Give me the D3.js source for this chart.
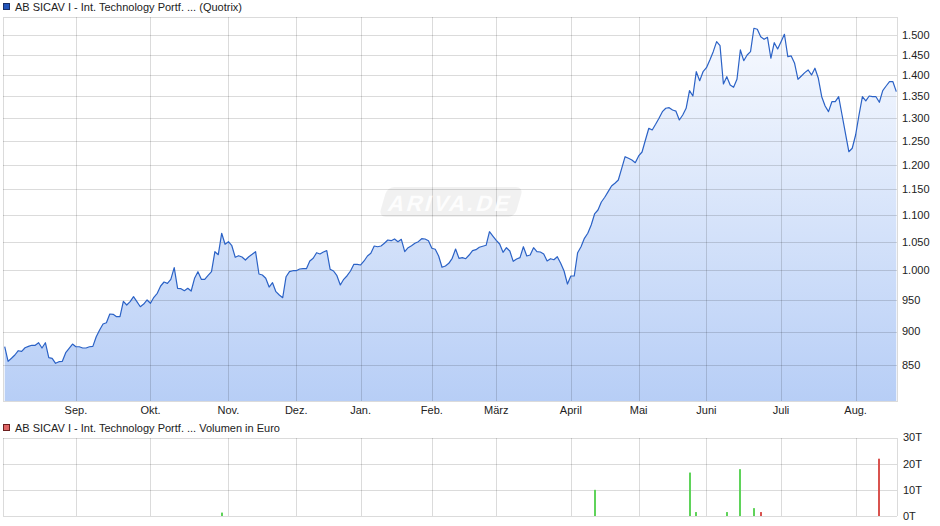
<!DOCTYPE html>
<html><head><meta charset="utf-8">
<script src="https://cdn.jsdelivr.net/npm/d3@7"></script>
<style>
body{margin:0;background:#fff;}
svg{display:block;font-family:"Liberation Sans",Arial,sans-serif;}
</style>
</head><body>
<svg id="c" width="940" height="526"></svg>
<script>
// ---------- data ----------
const priceTitle = "AB SICAV I - Int. Technology Portf. ... (Quotrix)";
const volumeTitle = "AB SICAV I - Int. Technology Portf. ... Volumen in Euro";

// daily closing prices (one per trading day)
const prices = [
876.8,855.0,859.5,864.4,870.8,869.9,875.3,877.4,879.0,879.0,
882.9,874.9,882.9,860.4,859.5,852.1,854.5,855.0,867.8,874.4,
880.9,876.8,876.8,874.9,874.9,876.8,877.4,892.1,902.5,911.8,
913.9,927.7,927.2,923.4,923.4,948.2,942.2,947.6,955.8,947.6,
939.4,943.8,950.4,945.0,954.8,961.4,973.6,980.3,978.1,984.9,
1004.8,969.7,969.1,965.7,969.7,965.2,986.6,997.9,984.9,984.9,
991.7,997.9,1032.9,1027.6,1066.2,1046.2,1050.9,1043.6,1023.0,1025.8,
1023.5,1018.2,1024.0,1028.3,1032.9,993.9,992.2,986.6,971.9,979.1,
964.1,958.6,954.1,989.3,997.9,999.6,999.6,1002.5,1003.1,1003.1,
1016.5,1021.2,1031.1,1028.8,1032.4,1034.7,1002.0,999.1,991.0,975.3,
984.9,991.0,999.1,1010.7,1010.7,1009.5,1016.5,1025.3,1030.0,1043.1,
1041.8,1043.1,1048.0,1053.9,1052.7,1055.8,1050.9,1055.2,1032.9,1040.0,
1043.6,1048.0,1050.9,1056.3,1055.8,1052.7,1039.0,1037.2,1025.3,1005.5,
1007.7,1012.4,1021.2,1037.7,1021.2,1022.3,1020.5,1027.0,1034.7,1036.5,
1040.8,1042.6,1044.4,1069.1,1061.2,1053.4,1046.7,1031.8,1040.0,1034.1,
1015.9,1020.0,1022.3,1041.8,1025.3,1027.0,1040.0,1032.9,1032.4,1028.8,
1016.5,1020.5,1018.7,1024.0,1012.4,999.1,976.9,990.5,990.5,1031.1,
1041.8,1057.0,1066.2,1081.6,1102.3,1109.9,1125.3,1134.5,1145.5,1156.8,
1162.2,1168.8,1192.6,1216.7,1213.4,1209.8,1204.2,1218.2,1226.6,1252.3,
1277.8,1274.0,1286.6,1300.0,1314.9,1322.6,1324.0,1318.7,1316.0,1296.2,
1307.4,1322.6,1363.4,1350.9,1408.7,1387.0,1408.7,1418.5,1437.4,1458.2,
1483.6,1473.4,1379.2,1396.7,1376.8,1371.4,1390.4,1462.5,1435.7,1449.9,
1458.2,1518.2,1515.6,1496.4,1489.7,1494.8,1441.7,1481.0,1465.0,1483.6,
1502.6,1445.7,1447.5,1429.3,1390.4,1398.4,1406.4,1412.9,1400.8,1417.1,
1392.8,1349.3,1327.9,1314.9,1337.7,1337.7,1349.3,1307.4,1266.8,1227.2,
1234.5,1263.1,1307.4,1349.3,1339.4,1350.9,1349.3,1349.3,1336.4,1363.4,
1374.4,1384.6,1384.6,1361.0
];

const monthLabels = ["Sep.","Okt.","Nov.","Dez.","Jan.","Feb.","März","April","Mai","Juni","Juli","Aug."];
const monthStartDay = [21,43,66,86,105,126,145,167,187,207,229,251];
const priceTicks = [850,900,950,1000,1050,1100,1150,1200,1250,1300,1350,1400,1450,1500];

const volumeDay   = [64,174,202,204,213,217,221,223,258];
const volumeValue = [1300,10000,16600,1500,1500,17900,3000,1500,21900];
const volumeDir   = ["up","up","up","up","up","up","up","down","down"];
const volumeTicks = [0,10000,20000,30000];

// ---------- layout ----------
const svg = d3.select("#c");
const L = 3, R = 897;
const pTop = 17, pBot = 401;
const vTop = 437.5, vBot = 516;

const x = d3.scaleLinear().domain([0, prices.length - 1]).range([4.7, 896.3]);
const y = d3.scaleLog().domain([798.5, 1548]).range([pBot, pTop]);
const yv = d3.scaleLinear().domain([0, 30000]).range([vBot, vTop]);

const de = d3.formatLocale({decimal: ",", thousands: ".", grouping: [3], currency: ["", " €"]});
const fmt = de.format(",d");

const gridCol = "#000", gridOp = 0.14;

// gradient
const defs = svg.append("defs");
const grad = defs.append("linearGradient").attr("id", "ag")
  .attr("gradientUnits", "userSpaceOnUse")
  .attr("x1", 0).attr("x2", 0).attr("y1", pTop).attr("y2", pBot);
grad.append("stop").attr("offset", "0%").attr("stop-color", "#f9fbff");
grad.append("stop").attr("offset", "100%").attr("stop-color", "#b7cef6");

// ---------- price panel ----------
const area = d3.area().x((d, i) => x(i)).y0(pBot).y1(d => y(d));
svg.append("path").datum(prices).attr("d", area).attr("fill", "url(#ag)");

// grid
const gp = svg.append("g").attr("stroke", gridCol).attr("stroke-opacity", gridOp).attr("shape-rendering", "crispEdges");
gp.selectAll("line.h").data(priceTicks).join("line")
  .attr("x1", L).attr("x2", R).attr("y1", d => Math.round(y(d)) + 0.5).attr("y2", d => Math.round(y(d)) + 0.5);
gp.selectAll("line.v").data(monthStartDay).join("line")
  .attr("y1", pTop).attr("y2", pBot).attr("x1", d => Math.round(x(d)) + 0.5).attr("x2", d => Math.round(x(d)) + 0.5);
gp.append("rect").attr("x", L + 0.5).attr("y", pTop + 0.5).attr("width", R - L).attr("height", pBot - pTop).attr("fill", "none");

// watermark
const wm = svg.append("g").attr("transform", "translate(451,202) skewX(-16)");
wm.append("rect").attr("x", -68).attr("y", -15).attr("width", 136).attr("height", 30).attr("rx", 7)
  .attr("fill", "#000").attr("fill-opacity", 0.055);
wm.append("text").attr("x", 0).attr("y", 8.5).attr("text-anchor", "middle")
  .attr("font-size", 22).attr("font-weight", "bold").attr("letter-spacing", 2.5)
  .attr("fill", "#fff").attr("fill-opacity", 0.9).text("ARIVA.DE");

// line
const line = d3.line().x((d, i) => x(i)).y(d => y(d));
svg.append("path").datum(prices).attr("d", line).attr("fill", "none")
  .attr("stroke", "#2b62c6").attr("stroke-width", 1.2).attr("stroke-linejoin", "round");

// y axis labels
svg.append("g").selectAll("text").data(priceTicks).join("text")
  .attr("x", 902).attr("y", d => y(d)).attr("dy", "0.35em")
  .attr("font-size", 11).attr("fill", "#222").text(d => fmt(d));

// month labels
svg.append("g").selectAll("text").data(monthLabels).join("text")
  .attr("x", (d, i) => x(monthStartDay[i])).attr("y", 414).attr("text-anchor", "middle")
  .attr("font-size", 11).attr("fill", "#222").text(d => d);

// legend
svg.append("rect").attr("x", 3.5).attr("y", 3.5).attr("width", 6).attr("height", 6)
  .attr("fill", "#2255bb").attr("stroke", "#1a2f66");
svg.append("text").attr("x", 15).attr("y", 11).attr("font-size", 11).attr("fill", "#222").text(priceTitle);

// ---------- volume panel ----------
const gv = svg.append("g").attr("stroke", gridCol).attr("stroke-opacity", gridOp).attr("shape-rendering", "crispEdges");
gv.selectAll("line.h").data(volumeTicks).join("line")
  .attr("x1", L).attr("x2", R).attr("y1", d => Math.round(yv(d)) + 0.5).attr("y2", d => Math.round(yv(d)) + 0.5);
gv.selectAll("line.v").data(monthStartDay).join("line")
  .attr("y1", vTop).attr("y2", vBot).attr("x1", d => Math.round(x(d)) + 0.5).attr("x2", d => Math.round(x(d)) + 0.5);
gv.append("line").attr("x1", L + 0.5).attr("x2", L + 0.5).attr("y1", vTop).attr("y2", vBot);
gv.append("line").attr("x1", R + 0.5).attr("x2", R + 0.5).attr("y1", vTop).attr("y2", vBot);

svg.append("g").selectAll("rect").data(volumeValue).join("rect")
  .attr("x", (d, i) => Math.round(x(volumeDay[i])) - 1)
  .attr("width", 2)
  .attr("y", d => yv(d))
  .attr("height", d => vBot - yv(d))
  .attr("fill", (d, i) => volumeDir[i] === "up" ? "#5fd35a" : "#d9534f");

svg.append("g").selectAll("text").data(volumeTicks).join("text")
  .attr("x", 903).attr("y", d => yv(d)).attr("dy", "0.35em")
  .attr("font-size", 11).attr("fill", "#222").text(d => (d / 1000) + "T");

svg.append("rect").attr("x", 3.5).attr("y", 424.5).attr("width", 6).attr("height", 6)
  .attr("fill", "#e06666").attr("stroke", "#6b1f1f");
svg.append("text").attr("x", 15).attr("y", 432).attr("font-size", 11).attr("fill", "#222").text(volumeTitle);
</script>
</body></html>
